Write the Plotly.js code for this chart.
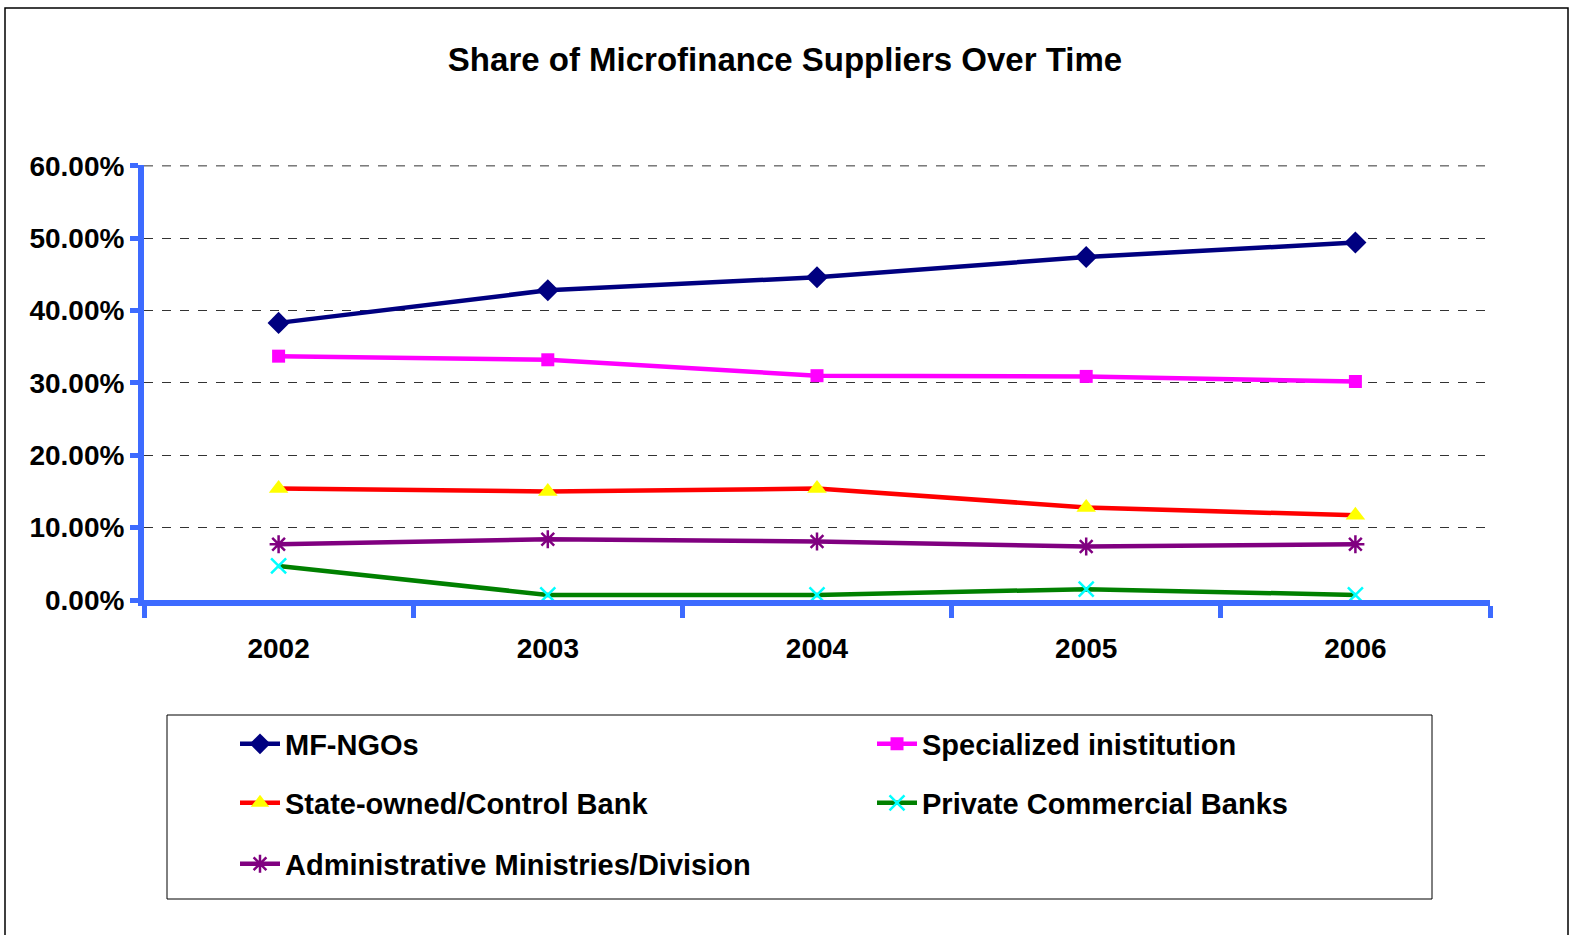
<!DOCTYPE html>
<html>
<head>
<meta charset="utf-8">
<script src="https://cdn.plot.ly/plotly-3.0.1.min.js"></script>
<style>html,body{margin:0;padding:0;background:#fff}#chart{width:1570px;height:935px}</style>
</head>
<body>
<div id="chart"></div>
<script>
const years = ["2002", "2003", "2004", "2005", "2006"];
const mfNgos = [0.383, 0.428, 0.446, 0.474, 0.494];
const specialized = [0.337, 0.332, 0.310, 0.309, 0.302];
const stateOwned = [0.154, 0.150, 0.154, 0.128, 0.117];
const privateBanks = [0.047, 0.007, 0.007, 0.015, 0.007];
const adminMinistries = [0.077, 0.084, 0.081, 0.074, 0.077];
const seriesNames = ["MF-NGOs", "Specialized inistitution", "State-owned/Control Bank", "Private Commercial Banks", "Administrative Ministries/Division"];
const yTicks = [0, 0.1, 0.2, 0.3, 0.4, 0.5, 0.6];

const FONT = "'Liberation Sans Narrow', 'Arial Narrow', 'Liberation Sans', Arial, sans-serif";
const AXIS_BLUE = "#3D6BFF";

// plot area in pixels: x 144..1490, y 165..600
const L = 144, R = 1490, T = 165, B = 600;
const px = x => (x - L) / (R - L);
const py = y => (B - y) / (B - T);

const traces = [
  {x: years, y: mfNgos, name: seriesNames[0], legend: "legend",
   line: {color: "#000080", width: 4.5}, marker: {symbol: "diamond", size: 17, color: "#000080"}},
  {x: years, y: specialized, name: seriesNames[1], legend: "legend",
   line: {color: "#FF00FF", width: 4.5}, marker: {symbol: "square", size: 13, color: "#FF00FF"}},
  {x: years, y: stateOwned, name: seriesNames[2], legend: "legend2",
   line: {color: "#FF0000", width: 4.5}, marker: {symbol: "triangle-up", size: 17, color: "#FFFF00"}},
  {x: years, y: privateBanks, name: seriesNames[3], legend: "legend2",
   line: {color: "#008000", width: 4.5}, marker: {symbol: "x-thin-open", size: 15, color: "#00FFFF", line: {color: "#00FFFF", width: 2.5}}},
  {x: years, y: adminMinistries, name: seriesNames[4], legend: "legend3",
   line: {color: "#800080", width: 4.5}, marker: {symbol: "asterisk-open", size: 15, color: "#800080", line: {color: "#800080", width: 2.5}}}
].map(t => Object.assign({type: "scatter", mode: "lines+markers"}, t));

const legendBase = {
  orientation: "h", xanchor: "left", yanchor: "middle",
  font: {family: FONT, size: 29, color: "#000", weight: "bold"},
  bgcolor: "rgba(0,0,0,0)", borderwidth: 0,
  entrywidth: 582, entrywidthmode: "pixels", itemwidth: 40
};

const yMax = yTicks[yTicks.length - 1];

const layout = {
  width: 1570, height: 935,
  margin: {l: L, r: 1570 - R, t: T, b: 935 - B},
  paper_bgcolor: "#fff", plot_bgcolor: "#fff",
  title: {text: "Share of Microfinance Suppliers Over Time", x: 0.5, xanchor: "center", y: 1 - 59 / 935, yanchor: "middle",
          font: {family: FONT, size: 33, color: "#000", weight: "bold"}},
  xaxis: {type: "category", range: [-0.5, 4.5], showgrid: false, zeroline: false,
          showline: true, linecolor: AXIS_BLUE, linewidth: 6,
          ticks: "outside", tickson: "boundaries", ticklen: 12, tickwidth: 5, tickcolor: AXIS_BLUE,
          ticklabelstandoff: 18,
          tickfont: {family: FONT, size: 28, color: "#000", weight: "bold"}, fixedrange: true},
  yaxis: {range: [0, 0.6012], tickvals: yTicks, tickformat: ".2%", showgrid: true, gridcolor: "#333", griddash: "dash", gridwidth: 1,
          zeroline: false, showline: true, linecolor: AXIS_BLUE, linewidth: 6,
          ticks: "outside", ticklen: 8, tickwidth: 5, tickcolor: AXIS_BLUE,
          tickfont: {family: FONT, size: 28, color: "#000", weight: "bold"}, fixedrange: true},
  showlegend: true,
  legend: Object.assign({}, legendBase, {x: px(235), y: py(744)}),
  legend2: Object.assign({}, legendBase, {x: px(235), y: py(803)}),
  legend3: Object.assign({}, legendBase, {x: px(235), y: py(864)}),
  shapes: [
    {type: "line", xref: "paper", yref: "y", x0: 0, x1: 1, y0: yMax, y1: yMax,
     line: {color: "#333", width: 1, dash: "dash"}, layer: "below"},
    {type: "rect", xref: "paper", yref: "paper", x0: px(167), x1: px(1432), y0: py(715), y1: py(899),
     line: {color: "#000", width: 1}, fillcolor: "rgba(0,0,0,0)", layer: "below"},
    {type: "rect", xref: "paper", yref: "paper", x0: px(5), x1: px(1568), y0: py(8), y1: py(945),
     line: {color: "#000", width: 1.5}, fillcolor: "rgba(0,0,0,0)", layer: "below"}
  ]
};

Plotly.newPlot("chart", traces, layout, {displayModeBar: false, responsive: false});
</script>
</body>
</html>
